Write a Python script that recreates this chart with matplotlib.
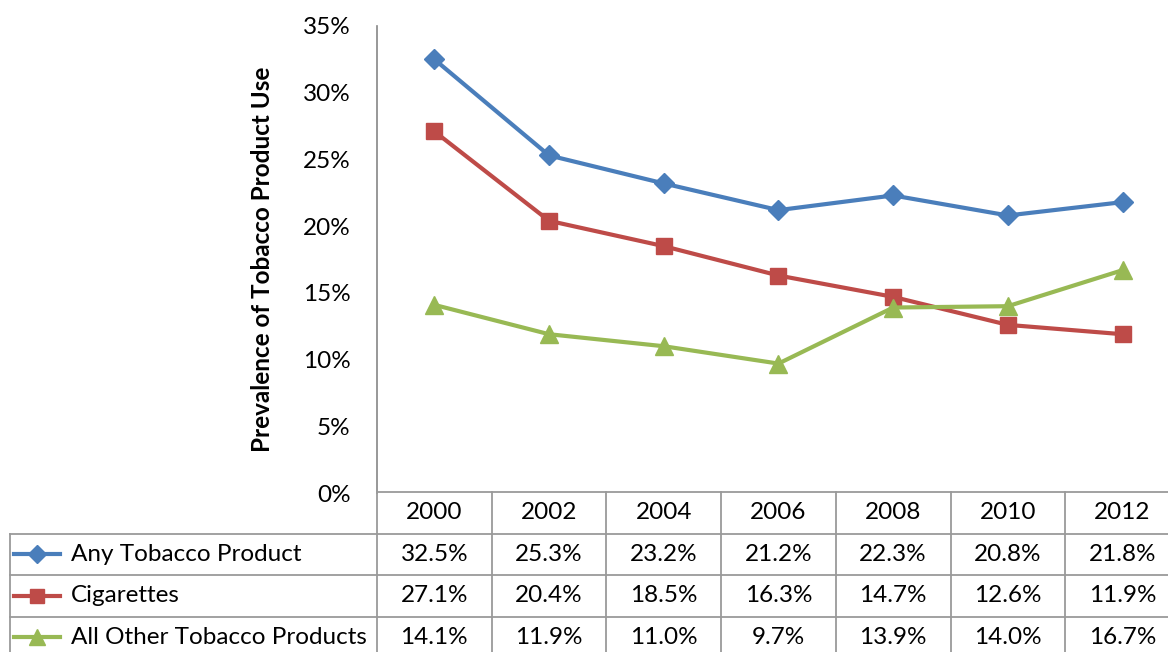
import matplotlib
matplotlib.use("Agg")
import matplotlib.pyplot as plt

years = ["2000", "2002", "2004", "2006", "2008", "2010", "2012"]
series_names = ["Any Tobacco Product", "Cigarettes", "All Other Tobacco Products"]
any_tobacco = [32.5, 25.3, 23.2, 21.2, 22.3, 20.8, 21.8]
cigarettes = [27.1, 20.4, 18.5, 16.3, 14.7, 12.6, 11.9]
other_tobacco = [14.1, 11.9, 11.0, 9.7, 13.9, 14.0, 16.7]
y_ticks = [0, 5, 10, 15, 20, 25, 30, 35]
y_label = "Prevalence of Tobacco Product Use"

colors = ["#4A7EBB", "#BE4B48", "#98B954"]
markers = ["D", "s", "^"]
msizes = [10.5, 12, 13.5]
values = [any_tobacco, cigarettes, other_tobacco]

plt.rcParams['font.family'] = ['Lato', 'DejaVu Sans']
FS = 17.5
W, H = 1168, 652
fig = plt.figure(figsize=(W / 100, H / 100), dpi=100)

colw = 114.7
ax_left = 377
ax_right = ax_left + 7 * colw
ax_top, ax_bot = 26, 493
ax = fig.add_axes([ax_left / W, (H - ax_bot) / H, (ax_right - ax_left) / W, (ax_bot - ax_top) / H])
x = list(range(len(years)))
for v, c, m, ms in zip(values, colors, markers, msizes):
    ax.plot(x, v, color=c, lw=3, marker=m, ms=ms, mfc=c, mec=c, zorder=3)
ax.set_xlim(-0.5, len(years) - 0.5)
ax.set_ylim(0, 35)
ax.set_yticks(y_ticks)
ax.set_yticklabels([f"{t}%" for t in y_ticks], fontsize=FS)
ax.tick_params(axis='y', length=0, pad=19)
ax.set_xticks([])
for s in ["top", "right", "bottom"]:
    ax.spines[s].set_visible(False)
ax.spines["left"].set_color("#868686")
ax.spines["left"].set_linewidth(1.2)
ax.set_ylabel(y_label, fontsize=17.5, fontweight="bold", labelpad=21)

# data table
row_h = 41.5
tab_top = 492
tab_left_px = 10
legend_w_units = (ax_left - tab_left_px) / colw
n_rows = 4
tab_bot = tab_top + n_rows * row_h
tax = fig.add_axes([tab_left_px / W, (H - tab_bot) / H, (ax_right - tab_left_px) / W, (tab_bot - tab_top) / H])
tax.set_xlim(-0.5 - legend_w_units, len(years) - 0.5)
tax.set_ylim(n_rows, 0)
tax.axis("off")
gc = "#9A9A9A"
lw = 1.3
xl = -0.5 - legend_w_units
xr = len(years) - 0.5
tax.plot([-0.5, xr], [0, 0], color=gc, lw=lw, clip_on=False)
for r in range(1, n_rows + 1):
    tax.plot([xl, xr], [r, r], color=gc, lw=lw, clip_on=False)
for i in range(len(years) + 1):
    tax.plot([i - 0.5, i - 0.5], [0, n_rows], color=gc, lw=lw, clip_on=False)
tax.plot([xl, xl], [1, n_rows], color=gc, lw=lw, clip_on=False)

for i, yr in enumerate(years):
    tax.text(i, 0.5, yr, ha="center", va="center", fontsize=FS)
for r, (name, v, c, m, ms) in enumerate(zip(series_names, values, colors, markers, msizes)):
    yy = r + 1.5
    k0 = xl + 0.035
    k1 = xl + 0.44
    tax.plot([k0, k1], [yy, yy], color=c, lw=3, clip_on=False)
    tax.plot([(k0 + k1) / 2], [yy], color=c, marker=m, ms=ms * 0.85, mec=c, clip_on=False)
    tax.text(xl + 0.53, yy, name, ha="left", va="center", fontsize=FS)
    for i, val in enumerate(v):
        tax.text(i, yy, f"{val:.1f}%", ha="center", va="center", fontsize=FS)

fig.savefig("out.png", dpi=100)
